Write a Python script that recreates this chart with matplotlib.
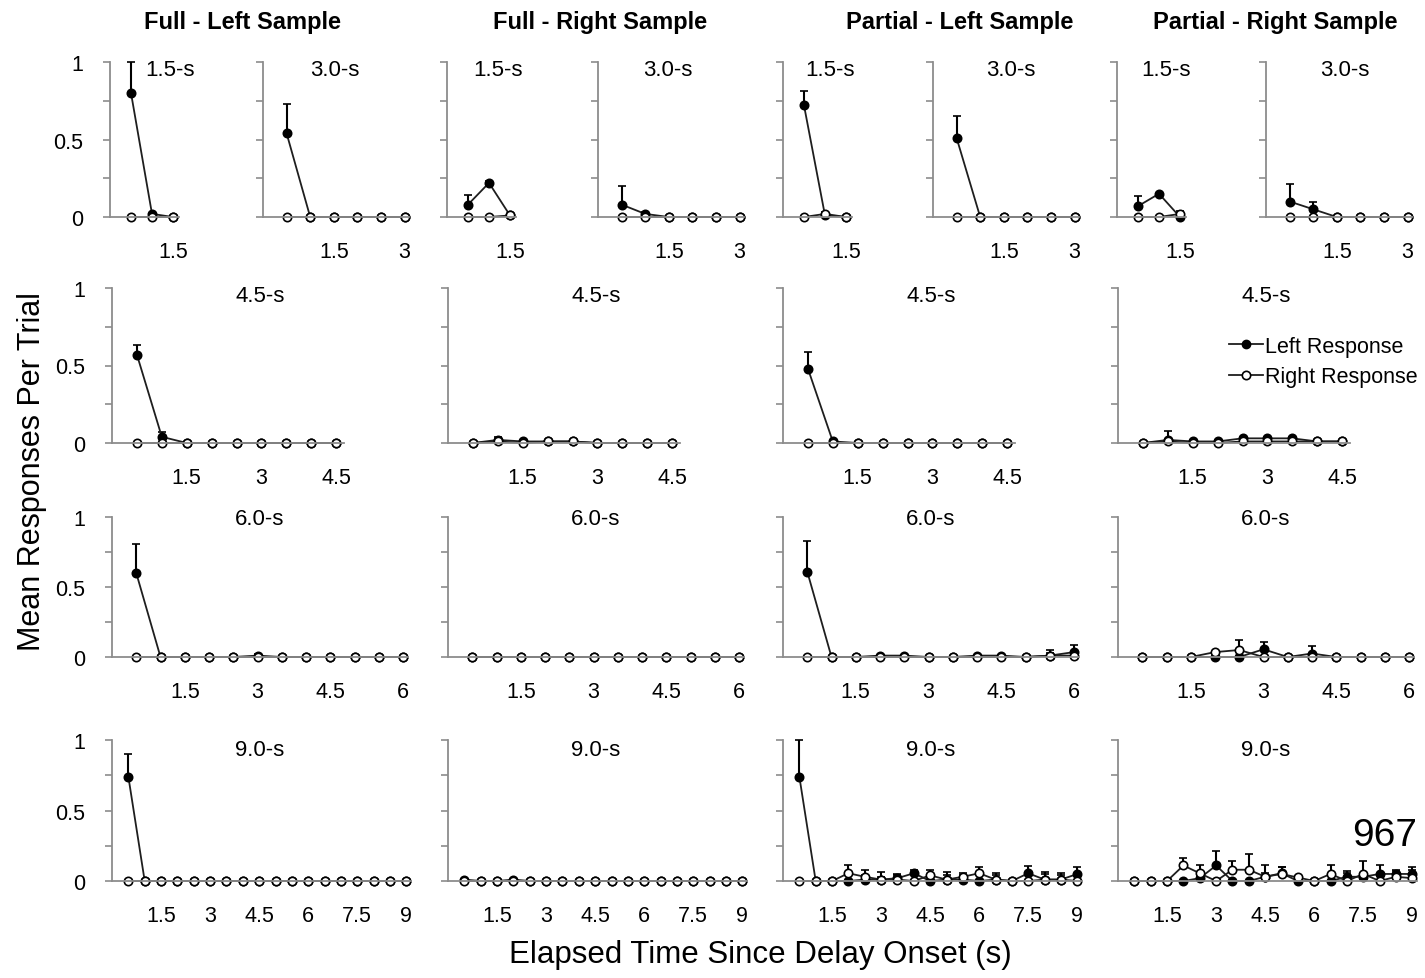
import numpy as np
import matplotlib.pyplot as plt
from matplotlib import font_manager
from matplotlib.lines import Line2D

# ---- data: mean responses per trial, bins of 0.5 s (upper error bars only) ----
durations = [1.5, 3.0, 4.5, 6.0, 9.0]
columns = ["Full - Left Sample", "Full - Right Sample",
           "Partial - Left Sample", "Partial - Right Sample"]

# Full - Left Sample
fl_left = {1.5: [0.80, 0.02, 0.0],
           3.0: [0.54, 0, 0, 0, 0, 0],
           4.5: [0.57, 0.04, 0, 0, 0, 0, 0, 0, 0],
           6.0: [0.60, 0, 0, 0, 0, 0.01, 0, 0, 0, 0, 0, 0],
           9.0: [0.74] + [0] * 17}
fl_left_err = {1.5: [0.20, 0, 0],
               3.0: [0.19, 0, 0, 0, 0, 0],
               4.5: [0.06, 0.03, 0, 0, 0, 0, 0, 0, 0],
               6.0: [0.21, 0, 0, 0, 0, 0.01, 0, 0, 0, 0, 0, 0],
               9.0: [0.16] + [0] * 17}
fl_right = {1.5: [0, 0, 0], 3.0: [0] * 6, 4.5: [0] * 9, 6.0: [0] * 12, 9.0: [0] * 18}
fl_right_err = {1.5: [0, 0, 0], 3.0: [0] * 6, 4.5: [0] * 9, 6.0: [0] * 12, 9.0: [0] * 18}

# Full - Right Sample
fr_left = {1.5: [0.08, 0.22, 0.01],
           3.0: [0.08, 0.02, 0, 0, 0, 0],
           4.5: [0, 0.02, 0.01, 0.01, 0.01, 0, 0, 0, 0],
           6.0: [0] * 12,
           9.0: [0.01, 0, 0, 0.01] + [0] * 14}
fr_left_err = {1.5: [0.06, 0.01, 0],
               3.0: [0.12, 0.01, 0, 0, 0, 0],
               4.5: [0, 0.02, 0.01, 0.01, 0.01, 0, 0, 0, 0],
               6.0: [0] * 12,
               9.0: [0] * 18}
fr_right = {1.5: [0, 0, 0.01],
            3.0: [0] * 6,
            4.5: [0, 0.01, 0, 0.01, 0.01, 0, 0, 0, 0],
            6.0: [0] * 12,
            9.0: [0] * 18}
fr_right_err = {1.5: [0, 0, 0], 3.0: [0] * 6, 4.5: [0] * 9, 6.0: [0] * 12, 9.0: [0] * 18}

# Partial - Left Sample
pl_left = {1.5: [0.72, 0.01, 0],
           3.0: [0.51, 0, 0, 0, 0, 0],
           4.5: [0.48, 0.01, 0, 0, 0, 0, 0, 0, 0],
           6.0: [0.61, 0, 0, 0.01, 0.01, 0, 0, 0.01, 0.01, 0, 0.01, 0.035],
           9.0: [0.74, 0, 0, 0, 0.01, 0.01, 0.02, 0.055, 0, 0.01, 0.01, 0, 0.01, 0,
                 0.055, 0.01, 0.01, 0.05]}
pl_left_err = {1.5: [0.09, 0, 0],
               3.0: [0.14, 0, 0, 0, 0, 0],
               4.5: [0.11, 0, 0, 0, 0, 0, 0, 0, 0],
               6.0: [0.22, 0, 0, 0, 0, 0, 0, 0, 0, 0, 0.02, 0.05],
               9.0: [0.26, 0, 0, 0, 0.03, 0.02, 0.03, 0.025, 0, 0.03, 0.03, 0, 0.03, 0,
                     0.05, 0.04, 0.03, 0.05]}
pl_right = {1.5: [0, 0.02, 0],
            3.0: [0] * 6,
            4.5: [0] * 9,
            6.0: [0] * 10 + [0.01, 0.01],
            9.0: [0, 0, 0, 0.055, 0.03, 0.01, 0.01, 0, 0.04, 0.01, 0.03, 0.055, 0.01, 0,
                  0, 0.01, 0.01, 0]}
pl_right_err = {1.5: [0, 0.01, 0],
                3.0: [0] * 6,
                4.5: [0] * 9,
                6.0: [0] * 10 + [0.04, 0],
                9.0: [0, 0, 0, 0.055, 0.05, 0.055, 0.03, 0, 0.04, 0.055, 0.03, 0.045, 0.045,
                      0, 0, 0.055, 0.045, 0]}

# Partial - Right Sample
pr_left = {1.5: [0.07, 0.15, 0.0],
           3.0: [0.10, 0.05, 0, 0, 0, 0],
           4.5: [0, 0.02, 0.01, 0.01, 0.03, 0.03, 0.03, 0.01, 0.01],
           6.0: [0, 0, 0, 0, 0, 0.055, 0, 0.025, 0, 0, 0, 0],
           9.0: [0, 0, 0, 0, 0.02, 0.11, 0, 0, 0.03, 0.055, 0, 0, 0, 0.03, 0.03, 0.05,
                 0.05, 0.05]}
pr_left_err = {1.5: [0.065, 0, 0],
               3.0: [0.11, 0.05, 0, 0, 0, 0],
               4.5: [0, 0.055, 0.01, 0.01, 0.01, 0.01, 0.01, 0.01, 0.01],
               6.0: [0, 0, 0, 0, 0, 0.055, 0, 0.055, 0, 0, 0, 0],
               9.0: [0, 0, 0, 0, 0.03, 0.10, 0, 0, 0.03, 0.045, 0, 0, 0, 0.03, 0.03, 0.06,
                     0.03, 0.03]}
pr_right = {1.5: [0, 0, 0.02],
            3.0: [0] * 6,
            4.5: [0, 0.01, 0, 0, 0.01, 0.01, 0.01, 0.01, 0.01],
            6.0: [0, 0, 0, 0.035, 0.05, 0, 0, 0, 0, 0, 0, 0],
            9.0: [0, 0, 0, 0.11, 0.055, 0, 0.08, 0.08, 0.03, 0.05, 0.025, 0, 0.05, 0,
                  0.05, 0, 0.03, 0.02]}
pr_right_err = {1.5: [0, 0, 0.02],
                3.0: [0] * 6,
                4.5: [0, 0.01, 0, 0, 0.01, 0.01, 0.01, 0.01, 0.01],
                6.0: [0, 0, 0, 0, 0.07, 0, 0, 0, 0, 0, 0, 0],
                9.0: [0, 0, 0, 0.05, 0.055, 0, 0.06, 0.115, 0.08, 0.05, 0, 0, 0.06, 0.07,
                      0.09, 0, 0.04, 0.08]}

series = [(fl_left, fl_left_err, fl_right, fl_right_err),
          (fr_left, fr_left_err, fr_right, fr_right_err),
          (pl_left, pl_left_err, pl_right, pl_right_err),
          (pr_left, pr_left_err, pr_right, pr_right_err)]

# ---- fonts ----
names = {f.name for f in font_manager.fontManager.ttflist}
if "Liberation Sans Narrow" in names:
    plt.rcParams["font.family"] = ["Liberation Sans Narrow", "DejaVu Sans"]
else:
    plt.rcParams["font.family"] = ["Liberation Sans", "DejaVu Sans"]

W, H = 1425, 979
fig = plt.figure(figsize=(W / 100, H / 100), dpi=100)
GRAY = "#8c8c8c"


def add_ax(left, width, top, bottom):
    return fig.add_axes([left / W, 1 - bottom / H, width / W, (bottom - top) / H])


# pixel layout
row_tb = {1.5: (63, 218), 3.0: (63, 218), 4.5: (289, 444), 6.0: (518, 658), 9.0: (741, 882)}
px_per_s = {1.5: 42, 3.0: 47.2, 4.5: 49.8, 6.0: 48.5, 9.0: 32.7}
xmax = {1.5: 1.65, 3.0: 3.1, 4.5: 4.65, 6.0: 6.1, 9.0: 9.15}
big_left = [112, 448, 783, 1118]
left_15 = [110, 447, 783, 1117]
left_30 = [263, 598, 933, 1266]
lab_x = {1.5: [170, 498, 830, 1166], 3.0: [335, 668, 1011, 1345]}
lab_y = {1.5: 70, 3.0: 70, 4.5: 297, 6.0: 520, 9.0: 751}

tick_fs = 15.5
for c, (lm, le, rm, re) in enumerate(series):
    for d in durations:
        if d == 1.5:
            x0 = left_15[c]
        elif d == 3.0:
            x0 = left_30[c]
        else:
            x0 = big_left[c]
        top, bot = row_tb[d]
        ax = add_ax(x0, xmax[d] * px_per_s[d], top, bot)
        n = len(lm[d])
        x = np.arange(1, n + 1) * 0.5
        for m, e, fc in ((lm[d], le[d], "black"), (rm[d], re[d], "white")):
            e = np.asarray(e, dtype=float)
            cont = ax.errorbar(x, m, yerr=[np.zeros_like(e), e], fmt="-o", color="#1e1e1e",
                               lw=1.3, ms=6, mfc=fc, mec="black", mew=1.2,
                               ecolor="black", elinewidth=1.5, capsize=3, capthick=1.5)
            for art in cont.get_children():
                art.set_clip_on(False)
        ax.set_xlim(0, xmax[d])
        ax.set_ylim(0, 1)
        for s in ("top", "right"):
            ax.spines[s].set_visible(False)
        for s in ("left", "bottom"):
            ax.spines[s].set_color(GRAY)
            ax.spines[s].set_linewidth(1.3)
        ax.set_yticks([0, 0.5, 1])
        ax.set_yticklabels(["0", "0.5", "1"])
        ax.set_yticks([0.25, 0.75], minor=True)
        ax.set_xticks(np.arange(1.5, d + 0.01, 1.5))
        ax.set_xticklabels(["%g" % v for v in np.arange(1.5, d + 0.01, 1.5)])
        show_y = (c == 0 and d != 3.0)
        ax.tick_params(axis="y", which="both", direction="out", length=5, width=1.2,
                       color=GRAY, labelleft=show_y, labelsize=tick_fs, pad=14)
        ax.tick_params(axis="x", length=0, labelsize=tick_fs, pad=17)
        ax.set_facecolor("none")
        # panel label
        if d in (1.5, 3.0):
            lx = lab_x[d][c]
        else:
            lx = x0 + 148
        fig.text(lx / W, 1 - lab_y[d] / H, "%.1f-s" % d, ha="center", va="center",
                 fontsize=16)
        if c == 3 and d == 4.5:
            handles = [Line2D([], [], color="#1e1e1e", lw=1.3, marker="o", ms=6,
                              mfc="black", mec="black"),
                       Line2D([], [], color="#1e1e1e", lw=1.3, marker="o", ms=6,
                              mfc="white", mec="black", mew=1.2)]
            fig.legend(handles, ["Left Response", "Right Response"],
                       loc="upper left", bbox_to_anchor=(1218 / W, 1 - 326 / H),
                       frameon=False, fontsize=15.5, handlelength=1.6,
                       handletextpad=0.1, labelspacing=0.45, borderpad=0)

# column titles
for cx, t in zip([243, 600, 960, 1275], columns):
    fig.text(cx / W, 1 - 22 / H, t, ha="center", va="center", fontsize=17,
             fontweight="bold")

fig.text(32 / W, 1 - 472 / H, "Mean Responses Per Trial", rotation=90,
         ha="center", va="center", fontsize=22)
fig.text(760 / W, 1 - 955 / H, "Elapsed Time Since Delay Onset (s)",
         ha="center", va="center", fontsize=22.5)
fig.text(1417 / W, 1 - 836 / H, "967", ha="right", va="center", fontsize=28)

fig.savefig("out.png", dpi=100)
